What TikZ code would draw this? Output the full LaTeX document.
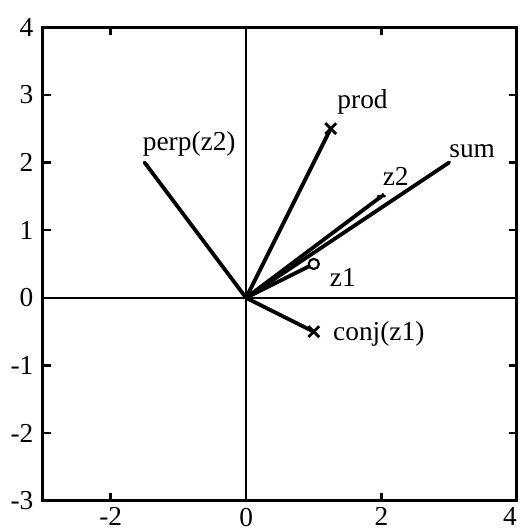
\documentclass[tikz,border=0pt]{standalone}
\usepackage{fontspec}
\setmainfont{Liberation Serif}
\usetikzlibrary{positioning,calc}

\begin{document}
\begin{tikzpicture}[
  font=\fontsize{11.5}{13}\selectfont,
  frame/.style={draw=black, line width=1.25pt},
  axis/.style={draw=black, line width=1.1pt},
  vec/.style={draw=black, line width=1.6pt, line cap=round},
  tick/.style={draw=black, line width=1pt},
  lbl/.style={inner sep=1pt},
  xmark/.style={draw=black, line width=1.2pt},
]
\useasboundingbox (-3.635,-3.459) rectangle (4.044,4.399);

%% ---------- frame and axes ----------
\draw[frame] (-3,-3) rectangle (4,4);
\draw[axis] (-3,0) -- (4,0);
\draw[axis] (0,-3) -- (0,4);

\foreach \y in {-2,-1,1,2,3} {
  \draw[tick] (-3,\y) -- ++(0.12,0);
  \draw[tick] (4,\y) -- ++(-0.12,0);
}
\foreach \x in {-2,2} {
  \draw[tick] (\x,-3) -- ++(0,0.12);
  \draw[tick] (\x,4) -- ++(0,-0.12);
}
\foreach \y in {-3,...,4}
  \node[lbl, anchor=east] (ly\y) at (-3.1,\y) {\y};
\foreach \x in {-2,0,2}
  \node[lbl, anchor=north] (lx\x) at (\x,-3.06) {\x};
\node[lbl, anchor=north east] (lx4) at (4.04,-3.06) {4};

%% ---------- vectors ----------
\coordinate (O) at (0,0);
\coordinate (z1) at (1,0.5);
\coordinate (z2) at (2,1.5);
\coordinate (sum) at (3,2);
\coordinate (prod) at (1.25,2.5);
\coordinate (perp) at (-1.5,2);
\coordinate (conj) at (1,-0.5);

\draw[vec] (O) -- (z1);
\draw[vec] (O) -- (z2);
\draw[vec] (O) -- (sum);
\draw[vec] (O) -- (prod);
\draw[vec] (O) -- (perp);
\draw[vec] (O) -- (conj);

% markers
\draw[line width=0.9pt, fill=white] (z1) circle (0.075);
\draw[xmark] ($(prod)+(-0.08,-0.08)$) -- ($(prod)+(0.08,0.08)$)
             ($(prod)+(-0.08,0.08)$) -- ($(prod)+(0.08,-0.08)$);
\draw[xmark] ($(conj)+(-0.08,-0.08)$) -- ($(conj)+(0.08,0.08)$)
             ($(conj)+(-0.08,0.08)$) -- ($(conj)+(0.08,-0.08)$);
\draw[line width=0.9pt] ($(z2)+(-0.06,0)$) -- ($(z2)+(0.06,0)$)
             ($(z2)+(-0.03,-0.04)$) -- ($(z2)+(0.03,0.04)$);

%% ---------- labels ----------
\node[lbl] (tz1) at (1.43,0.3) {z1};
\node[lbl] (tz2) at (2.21,1.8) {z2};
\node[lbl] (tsum) at (3.34,2.16) {sum};
\node[lbl] (tprod) at (1.72,2.9) {prod};
\node[lbl] (tperp) at (-0.84,2.27) {perp(z2)};
\node[lbl] (tconj) at (1.96,-0.53) {conj(z1)};

\end{tikzpicture}
\end{document}
